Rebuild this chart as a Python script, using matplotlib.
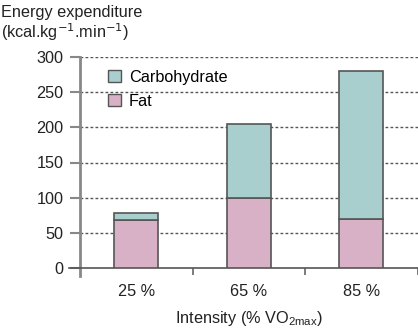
import matplotlib as mpl
mpl.use('Agg')

import matplotlib.pyplot as plt
import numpy as np
from matplotlib.patches import Patch

plt.rcParams['font.family'] = ['Liberation Sans', 'DejaVu Sans']

intensity = ["25 %", "65 %", "85 %"]
fat = [68, 100, 70]
carbohydrate = [10, 105, 210]
yticks = [0, 50, 100, 150, 200, 250, 300]

fat_col = '#d9b1c7'
carb_col = '#a8cfcd'
edge_col = '#555555'
txt_col = '#222222'
fs = 11.7

W, H = 418, 329
fig = plt.figure(figsize=(W / 100, H / 100), dpi=100)
ax = fig.add_axes([80 / W, (H - 268) / H, (417.5 - 80) / W, (268 - 57) / H])

pos = np.arange(len(intensity))
ax.bar(pos, fat, width=0.39, color=fat_col, edgecolor=edge_col, linewidth=1.2, zorder=3)
ax.bar(pos, carbohydrate, bottom=fat, width=0.39, color=carb_col,
       edgecolor=edge_col, linewidth=1.2, zorder=3)

ax.set_xlim(-0.5, 2.5)
ax.set_ylim(0, 300)

# dotted grid behind the bars
for v in yticks[1:]:
    ax.axhline(v, color='#555555', linestyle=(0, (2, 1.6)), linewidth=1, zorder=1)

ax.set_yticks(yticks)
ax.set_yticklabels([str(v) for v in yticks], fontsize=fs, color=txt_col)
ax.tick_params(axis='y', length=7, width=1.5, color='#888888', pad=5)

# category ticks sit on the boundaries, labels in the middle
ax.set_xticks([0.5, 1.5, 2.5])
ax.set_xticklabels([])
ax.tick_params(axis='x', length=5, width=1.2, color='#666666', direction='out')
for i, lab in enumerate(intensity):
    ax.text(i, -34, lab, ha='center', va='center', fontsize=fs, color=txt_col)

for s in ['top', 'right']:
    ax.spines[s].set_visible(False)
ax.spines['left'].set_color('#888888')
ax.spines['left'].set_linewidth(2)
ax.spines['bottom'].set_color('#555555')
ax.spines['bottom'].set_linewidth(1.2)
ax.spines['bottom'].set_bounds(-0.6, 2.5)
ax.spines['left'].set_bounds(-12, 300)

fig.text(1 / W, 1 - 12 / H, "Energy expenditure", fontsize=fs, color=txt_col,
         ha='left', va='center')
fig.text(1 / W, 1 - 32 / H, "(kcal.kg$^{-1}$.min$^{-1}$)", fontsize=fs, color=txt_col,
         ha='left', va='center')
fig.text(249 / W, 1 - 319 / H, "Intensity (% VO$_{\\mathregular{2max}}$)", fontsize=fs,
         color=txt_col, ha='center', va='center')

handles = [Patch(facecolor=carb_col, edgecolor=edge_col, label='Carbohydrate'),
           Patch(facecolor=fat_col, edgecolor=edge_col, label='Fat')]
ax.legend(handles=handles, loc='upper left', bbox_to_anchor=(0.065, 0.97), frameon=False,
          fontsize=fs, handlelength=0.75, handleheight=0.75, handletextpad=0.5,
          labelspacing=0.55, borderaxespad=0)

plt.savefig("out.png", format="png", dpi=100)
